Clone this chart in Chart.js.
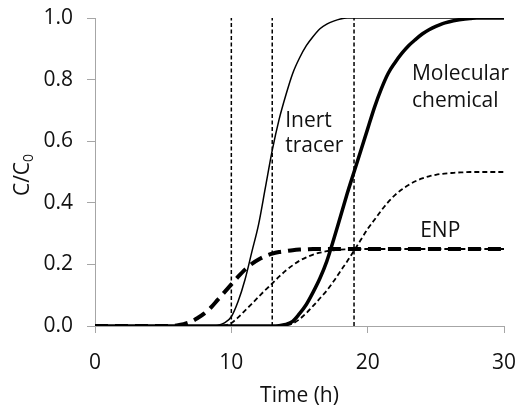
<!DOCTYPE html>
<html><head><meta charset="utf-8">
<script src="https://cdn.jsdelivr.net/npm/chart.js@4.4.0/dist/chart.umd.min.js"></script>
<style>html,body{margin:0;padding:0;background:#fff;} #wrap{width:517px;height:406px;position:relative;}</style>
</head><body><div id="wrap"><canvas id="c" width="517" height="406" style="width:517px;height:406px"></canvas></div>
<script>
// Time (h)
const time = [0,0.5,1,1.5,2,2.5,3,3.5,4,4.5,5,5.5,6,6.5,7,7.5,8,8.5,9,9.5,10,10.5,11,11.5,12,12.5,13,13.5,14,14.5,15,15.5,16,16.5,17,17.5,18,18.5,19,19.5,20,20.5,21,21.5,22,22.5,23,23.5,24,24.5,25,25.5,26,26.5,27,27.5,28,28.5,29,29.5,30];
// C/C0 values
const inertTracer = [0,0,0,0,0,0,0,0,0,0,0,0,0,0,0,0,0,0,0.002,0.01,0.03,0.08,0.15,0.24,0.33,0.45,0.57,0.67,0.75,0.82,0.87,0.91,0.94,0.965,0.98,0.99,0.997,1,1,1,1,1,1,1,1,1,1,1,1,1,1,1,1,1,1,1,1,1,1,1,1];
const molecularChemical = [0,0,0,0,0,0,0,0,0,0,0,0,0,0,0,0,0,0,0,0,0,0,0,0,0,0,0,0.001,0.005,0.015,0.04,0.07,0.11,0.155,0.21,0.28,0.355,0.43,0.5,0.57,0.64,0.71,0.77,0.82,0.855,0.885,0.91,0.93,0.948,0.962,0.973,0.982,0.988,0.993,0.996,0.998,1,1,1,1,1];
const enp = [0,0,0,0,0,0,0,0,0,0,0,0,0.002,0.006,0.013,0.025,0.04,0.06,0.085,0.11,0.135,0.16,0.183,0.202,0.216,0.227,0.235,0.24,0.243,0.246,0.248,0.249,0.25,0.25,0.25,0.25,0.25,0.25,0.25,0.25,0.25,0.25,0.25,0.25,0.25,0.25,0.25,0.25,0.25,0.25,0.25,0.25,0.25,0.25,0.25,0.25,0.25,0.25,0.25,0.25,0.25];
const dashedCurveA = [0,0,0,0,0,0,0,0,0,0,0,0,0,0,0,0,0,0,0,0.002,0.01,0.028,0.05,0.072,0.095,0.117,0.138,0.16,0.18,0.197,0.212,0.223,0.232,0.238,0.243,0.246,0.248,0.249,0.25,0.25,0.25,0.25,0.25,0.25,0.25,0.25,0.25,0.25,0.25,0.25,0.25,0.25,0.25,0.25,0.25,0.25,0.25,0.25,0.25,0.25,0.25];
const dashedCurveB = [0,0,0,0,0,0,0,0,0,0,0,0,0,0,0,0,0,0,0,0,0,0,0,0,0,0,0,0,0.002,0.008,0.022,0.042,0.065,0.09,0.115,0.145,0.178,0.21,0.245,0.28,0.315,0.345,0.375,0.402,0.425,0.443,0.458,0.47,0.479,0.486,0.491,0.494,0.496,0.498,0.499,0.5,0.5,0.5,0.5,0.5,0.5];
// Vertical reference times (h)
const markerTimes = [10, 13, 19];
// Axis ticks
const xTicks = [0, 10, 20, 30];
const yTicks = [0, 0.2, 0.4, 0.6, 0.8, 1.0];
// In-plot labels (anchor in data units)
const labelTexts = ['Inert', 'tracer', 'Molecular', 'chemical', 'ENP'];
const labelTimes = [13.95, 13.95, 23.25, 23.25, 23.85];
const labelValues = [0.647, 0.566, 0.799, 0.711, 0.29];

const FONT = '"Open Sans", "Liberation Sans", sans-serif';
const TEXT = '#111';
const AXIS = '#a6a6a6';

const pts = arr => time.map((t, i) => ({x: t, y: arr[i]}));
const curve = (label, arr, w, dash) => ({label, data: pts(arr), borderColor: '#000', borderWidth: w,
  borderDash: dash, pointRadius: 0, cubicInterpolationMode: 'monotone', fill: false, borderCapStyle: 'butt'});

const datasets = [
  curve('Inert tracer', inertTracer, 1.5, []),
  curve('Molecular chemical', molecularChemical, 3.5, []),
  curve('ENP', enp, 4, [13, 7]),
  curve('Dashed A', dashedCurveA, 1.8, [5, 3]),
  curve('Dashed B', dashedCurveB, 1.8, [5, 3]),
  ...markerTimes.map(t => ({label: 'marker ' + t, data: [{x: t, y: yTicks[0]}, {x: t, y: yTicks[yTicks.length-1]}],
    borderColor: '#000', borderWidth: 1.5, borderDash: [4, 2.5], pointRadius: 0, fill: false}))
];

const annot = {
  id: 'annot',
  afterDatasetsDraw(chart) {
    const {ctx, scales: {x, y}, chartArea} = chart;
    ctx.save();
    ctx.fillStyle = TEXT;
    ctx.font = '21px ' + FONT;
    ctx.textAlign = 'left';
    ctx.textBaseline = 'alphabetic';
    labelTexts.forEach((s, i) => ctx.fillText(s, x.getPixelForValue(labelTimes[i]), y.getPixelForValue(labelValues[i])));
    // x-axis title
    ctx.textAlign = 'center';
    ctx.fillText('Time (h)', (chartArea.left + chartArea.right) / 2, chartArea.bottom + 76);
    // y-axis title C/C0
    ctx.translate(23, (chartArea.top + chartArea.bottom) / 2 + 3);
    ctx.rotate(-Math.PI / 2);
    ctx.textAlign = 'left';
    ctx.textBaseline = 'middle';
    ctx.font = '21px ' + FONT;
    const w1 = ctx.measureText('C/C').width;
    ctx.font = '14px ' + FONT;
    const w2 = ctx.measureText('0').width;
    const start = -(w1 + w2) / 2;
    ctx.font = '21px ' + FONT;
    ctx.fillText('C/C', start, 0);
    ctx.font = '14px ' + FONT;
    ctx.fillText('0', start + w1, 6);
    ctx.restore();
  }
};

new Chart(document.getElementById('c'), {
  type: 'line',
  data: {datasets},
  plugins: [annot],
  options: {
    responsive: false, animation: false, devicePixelRatio: 1,
    layout: {padding: {top: 18, right: 13, left: 0, bottom: 0}},
    plugins: {legend: {display: false}, tooltip: {enabled: false}},
    scales: {
      x: {
        type: 'linear', min: xTicks[0], max: xTicks[xTicks.length-1],
        afterBuildTicks: s => { s.ticks = xTicks.map(v => ({value: v})); },
        afterFit: s => { s.height = 80; s.paddingLeft = 0; s.paddingRight = 0; },
        grid: {drawOnChartArea: false, color: AXIS, tickLength: 7},
        border: {color: AXIS, width: 1},
        ticks: {color: TEXT, font: {family: FONT, size: 21}, padding: 17, maxRotation: 0}
      },
      y: {
        min: yTicks[0], max: yTicks[yTicks.length-1],
        afterBuildTicks: s => { s.ticks = yTicks.map(v => ({value: v})); },
        afterFit: s => { s.width = 95; s.paddingTop = 0; s.paddingBottom = 0; },
        grid: {drawOnChartArea: false, color: AXIS, tickLength: 8},
        border: {color: AXIS, width: 1},
        ticks: {color: TEXT, font: {family: FONT, size: 21}, padding: 14, callback: v => v.toFixed(1)}
      }
    }
  }
});
</script></body></html>
